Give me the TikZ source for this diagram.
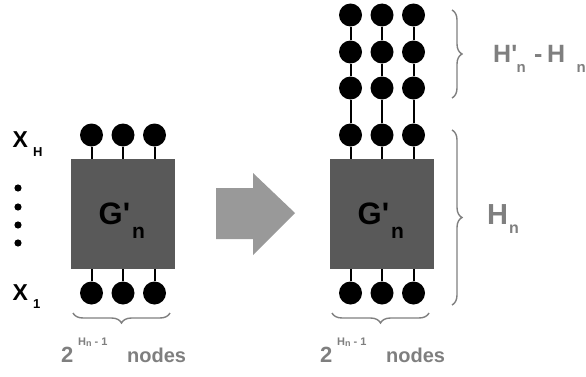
\documentclass[tikz,border=0pt]{standalone}
\usepackage{fontspec}
\setmainfont{Liberation Sans}[Ligatures=TeXOff]
\usetikzlibrary{decorations.pathreplacing}
\definecolor{blockgray}{HTML}{595959}
\definecolor{labelgray}{HTML}{7F7F7F}
\definecolor{arrowgray}{HTML}{999999}
\newcommand\fsz[1]{\fontsize{#1}{#1}\selectfont}
\newcommand\tick{\char"27}
\begin{document}
\begin{tikzpicture}[x=1pt,y=1pt,
  dot/.style={circle,fill=black,inner sep=0pt,minimum size=23pt},
  block/.style={fill=blockgray,minimum width=104pt,minimum height=110pt,inner sep=0pt},
  wire/.style={line width=2pt},
  lbl/.style={anchor=base west,inner sep=0pt,text=labelgray,font=\bfseries},
  blk/.style={anchor=base west,inner sep=0pt,text=black,font=\bfseries},
  brace/.style={draw=labelgray,line width=1.4pt,decorate,decoration={brace,amplitude=10pt}}
]
\useasboundingbox (0,0) rectangle (586,376);

% ---------- left: G'_n with its input and output nodes ----------
\node[block] (L) at (123,162) {};
\foreach \i/\x in {1/91.5,2/123,3/154.5}{
  \node[dot] (lt\i) at (\x,241) {};
  \node[dot] (lb\i) at (\x,83) {};
  \draw[wire] (lt\i) -- (lt\i |- L.north);
  \draw[wire] (lb\i) -- (lb\i |- L.south);
}
\node[blk] (lG) at (98.5,152) {\fsz{31}G\tick};
\node[blk] (ln) at (132,138) {\fsz{21}n};

% inputs X_1 ... X_H
\node[blk] (xH) at (12.5,229) {\fsz{23}X};
\node[blk] (xHs) at (33,220) {\fsz{13}H};
\node[blk] (x1) at (12.5,76) {\fsz{23}X};
\node[blk] (x1s) at (33,68) {\fsz{13}1};
\foreach \y [count=\k] in {188,169,151,133}
  \fill (18,\y) circle (3.6pt);

% width brace and count
\draw[brace] (170,63) -- (73,63);
\node[lbl] (l2) at (61,14) {\fsz{22}2};
\node[lbl] (lsup) at (78,31) {\fsz{11}H\raisebox{-1.5pt}{\fsz{9}n} - 1};
\node[lbl] (lnodes) at (127,14) {\fsz{20}nodes};

% ---------- transformation arrow ----------
\fill[arrowgray] (216,188) -- (253,188) -- (253,203) -- (295,163)
  -- (253,121) -- (253,137) -- (216,137) -- cycle;

% ---------- right: G'_n extended upwards ----------
\node[block] (R) at (382,162) {};
\foreach \i/\x in {1/350.5,2/382,3/413.5}{
  \node[dot] (rt\i) at (\x,241) {};
  \node[dot] (rb\i) at (\x,83) {};
  \node[dot] (ra\i) at (\x,288) {};
  \node[dot] (rc\i) at (\x,324) {};
  \node[dot] (rd\i) at (\x,361) {};
  \draw[wire] (rt\i) -- (rt\i |- R.north);
  \draw[wire] (rb\i) -- (rb\i |- R.south);
  \draw[wire] (rt\i) -- (ra\i) -- (rc\i) -- (rd\i);
}
\node[blk] (rG) at (357.5,152) {\fsz{31}G\tick};
\node[blk] (rn) at (391,138) {\fsz{21}n};

% height braces and labels
\draw[brace] (452,366) -- (452,278);
\draw[brace] (452,246) -- (452,71);
\node[lbl] (hp) at (493,314) {\fsz{25}H\tick};
\node[lbl] (hpn) at (516.5,304) {\fsz{15}n};
\node[lbl] (hm) at (534,314) {\fsz{25}-};
\node[lbl] (h2) at (547,314) {\fsz{25}H};
\node[lbl] (h2n) at (576.5,304) {\fsz{15}n};
\node[lbl] (hn) at (487,152) {\fsz{29}H};
\node[lbl] (hnn) at (509,143) {\fsz{16}n};

% width brace and count
\draw[brace] (429,63) -- (332,63);
\node[lbl] (r2) at (320,14) {\fsz{22}2};
\node[lbl] (rsup) at (337,31) {\fsz{11}H\raisebox{-1.5pt}{\fsz{9}n} - 1};
\node[lbl] (rnodes) at (386,14) {\fsz{20}nodes};
\end{tikzpicture}
\end{document}
